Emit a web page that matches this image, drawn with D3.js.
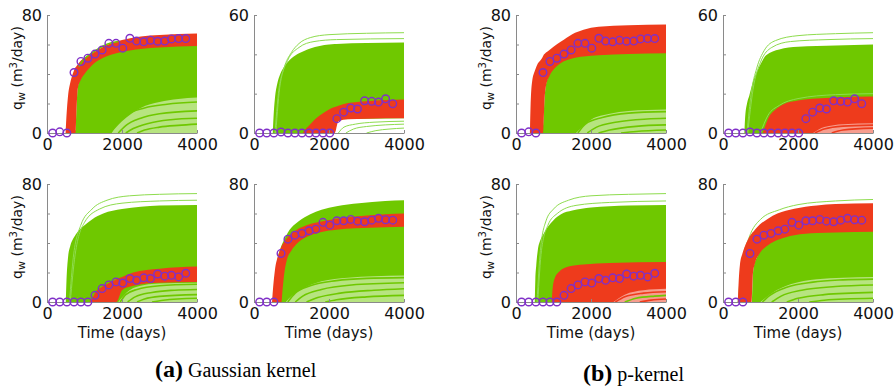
<!DOCTYPE html>
<html>
<head>
<meta charset="utf-8">
<script src="https://cdn.jsdelivr.net/npm/d3@7"></script>
<style>
  body { margin: 0; background: #fff; }
  svg { display: block; }
</style>
</head>
<body>
<svg id="chart" width="894" height="387"></svg>
<script>
// observation times (days) shared by every panel
const obsDays = [150, 340, 530, 720, 905, 1090, 1280, 1470, 1650, 1840, 2020, 2210, 2390, 2580, 2760, 2950, 3140, 3320, 3510, 3700];

// observed water rates per well (m3/day)
const well1Obs = [0, 0.8, 0, 41, 48.5, 50.7, 53.5, 56.3, 60.8, 60.8, 57.5, 64.2, 62.3, 61.8, 62.9, 62.2, 62.3, 63.8, 64, 64];
const well2Obs = [0, 0, 0, 0.5, 0, 0, 0, 0, 0, 0, 0, 7.3, 10.6, 12.7, 12.2, 16.4, 16.1, 15.7, 17.4, 14.9];
const well3Obs = [0, 0, 0, 0, 0, 0, 4.5, 9.1, 11.6, 13.6, 12.8, 15.9, 14.7, 16.4, 15.9, 19, 17.5, 18.1, 17, 19.5];
const well4Obs = [0, 0, 0, 32.9, 42.6, 45.3, 46.5, 48.3, 49.4, 54, 52.1, 55.1, 55.1, 56, 54.8, 54.4, 55.5, 56.7, 55.8, 55.5];

// ensemble envelopes as [day, low, high]; single members as [day, rate]
// (a) Gaussian kernel
const a1Green = [[600,0,0],[640,0,0],[760,0,2],[790,0,19],[820,0,31],[900,0,37],[1000,0,41],[1200,0,47],[1500,0,52],[2000,0,56],[2500,0,58],[3000,0,59],[4000,0,60]];
const a1Red = [[495,0,0],[520,0,12],[560,0,25],[620,0,34],[700,0,41],[760,0,44.5],[790,18,45.5],[820,30,46.5],[900,36,49],[1000,40,51],[1200,46,54],[1500,51,58.5],[2000,55,63],[2500,57,65.5],[3000,58,66.5],[4000,59,67.5]];
const a1Sparse = [[1700,0,0],[2000,0,8],[2500,0,17],[3000,0,21],[3500,0,23],[4000,0,24]];
const a1SparseGreen = [
  [[1700,0],[1850,6],[2100,12],[2600,17],[3200,19.5],[4000,21]],
  [[1900,0],[2100,5],[2500,10],[3000,13],[4000,15]],
  [[2100,0],[2300,3],[2700,6.5],[3300,9],[4000,10]],
  [[2400,0],[2600,2],[3000,4],[3500,5.2],[4000,6]]
];
const a1SparseRed = [];
const a1GreenLines = [];
const a1TopLines = [[[850,45],[950,49],[1100,52.5],[1300,56],[1500,59],[1700,61],[1900,62]]];

const a2Green = [[500,0,0],[520,0,8],[560,0,18],[620,0,25],[700,0,30],[800,0,33.5],[1000,0,38],[1200,0,40.5],[1500,0,43],[2000,0,45],[2150,0,45.2],[2200,7,45.3],[3000,7.3,45.7],[4000,7.5,46]];
const a2Red = [[1300,0,0],[1400,0,2.5],[1500,0,4.5],[1600,0,6.5],[1800,0,9.5],[2000,0,12],[2150,0,13.2],[2250,6,13.9],[2500,7,15.2],[3000,7.3,16.2],[4000,7.5,17]];
const a2Sparse = null;
const a2SparseGreen = [];
const a2SparseRed = [];
const a2GreenLines = [
  [[560,0],[650,20],[800,33],[1000,41],[1200,45.5],[1500,48.5],[2000,50],[3000,50.7],[4000,51]],
  [[580,0],[700,25],[900,37],[1200,43.5],[1600,46.5],[2200,47.5],[4000,48]],
  [[2250,0],[2400,3],[2700,4.5],[3200,5.5],[4000,6]],
  [[2450,0],[2650,2],[3000,3.3],[4000,4.5]],
  [[3000,0],[3250,1.2],[3600,2],[4000,2.5]]
];
const a2TopLines = [];

const a3Green = [[500,0,0],[520,0,15],[560,0,30],[620,0,38],[700,0,43],[800,0,47],[1000,0,52],[1200,0,56],[1500,0,60],[2000,0,63],[2500,0,64.5],[3000,0,65.5],[4000,0,65.8]];
const a3Red = [[1130,0,0],[1200,0,2.5],[1300,0,7],[1450,0,10],[1700,0,13.5],[1850,0,15.5],[2000,8,17],[2300,11,20],[3000,13,22.5],[4000,13.5,24]];
const a3Sparse = [[1900,0,0],[2200,0,8],[2600,0,11.5],[3000,0,12.5],[4000,0,13]];
const a3SparseGreen = [
  [[1950,0],[2100,5],[2400,8.5],[3000,11],[4000,12]],
  [[2150,0],[2350,3.5],[2800,6.5],[3400,8],[4000,8.5]],
  [[2400,0],[2600,2],[3000,3.8],[4000,5]],
  [[2800,0],[3100,1.2],[4000,2.5]]
];
const a3SparseRed = [];
const a3GreenLines = [
  [[600,0],[700,30],[900,52],[1200,63],[1600,69],[2200,72],[3000,73],[4000,73.5]],
  [[620,0],[750,32],[1000,54],[1400,63],[2000,67],[3000,68.5],[4000,69]]
];
const a3TopLines = [];

const a4Green = [[520,0,0],[560,0,15],[620,0,28],[700,0,36],[800,0,42],[900,0,47],[1000,0,50.5],[1200,0,55],[1500,0,59.5],[1800,0,62.5],[2200,0,65],[2800,0,67],[3500,0,68.5],[4000,0,69]];
const a4Red = [[480,0,0],[510,0,10],[555,0,21],[650,0,32],[730,0,37.5],[760,8,39],[800,18,40.5],[870,28,43],[1000,35,46.5],[1140,39.5,49],[1400,44,52],[1800,47.5,54.5],[2200,49,56.5],[2700,50,58],[3500,50.7,59.5],[4000,51,60]];
const a4Sparse = [[850,0,0],[1000,0,4],[1300,0,9],[1800,0,14],[2500,0,16.5],[3200,0,17.5],[4000,0,18]];
const a4SparseGreen = [
  [[900,0],[1100,6],[1500,11],[2200,14.5],[3000,16],[4000,16.5]],
  [[1100,0],[1300,4],[1800,8.5],[2600,11.5],[4000,13]],
  [[1400,0],[1700,3],[2300,6],[3200,8],[4000,9]],
  [[1900,0],[2200,1.5],[3000,3.5],[4000,4.5]]
];
const a4SparseRed = [];
const a4GreenLines = [];
const a4TopLines = [];

// (b) p-kernel
const b1Green = [[700,0,0],[730,0,8],[760,0,23],[800,0,33],[900,0,40],[1000,0,44],[1200,0,48.5],[1500,0,51.5],[2000,0,53.5],[3000,0,54.5],[4000,0,55]];
const b1Red = [[370,0,0],[390,0,20],[430,0,35],[500,0,42],[560,0,46],[700,0,51],[720,0,52],[740,10,53],[760,22,53.5],[800,32,54.5],[900,39,56.5],[1000,43,58.5],[1200,47.5,62],[1500,50.5,67],[1800,51.8,70],[2200,52.7,72],[3000,53.5,73],[4000,54,73.5]];
const b1Sparse = [[1600,0,0],[2000,0,9],[2500,0,13],[3000,0,15],[4000,0,16]];
const b1SparseGreen = [
  [[1650,0],[1850,6],[2300,10.5],[3000,13.5],[4000,14.5]],
  [[1900,0],[2150,4],[2700,7.5],[3500,9.5],[4000,10]],
  [[2200,0],[2500,2],[3200,4.5],[4000,5.5]],
  [[2800,0],[3200,1],[4000,2]]
];
const b1SparseRed = [];
const b1GreenLines = [];
const b1TopLines = [];

const b2Green = [[570,0,0],[590,0,8],[640,0,15],[700,0,19],[800,0,26],[900,0,31],[1000,0,35],[1150,0,39.5],[1500,0,42.5],[2000,0,43.8],[3000,0,44.5],[4000,0,45]];
const b2Red = [[1060,0,0],[1150,0,5],[1250,0,9],[1400,0,12],[1600,0,14.5],[2000,0,16.5],[2500,0,17.5],[3000,0,18],[4000,0,18.5]];
const b2Sparse = [[2400,0,0],[2700,0,3],[3200,0,4.5],[4000,0,5]];
const b2SparseGreen = [];
const b2SparseRed = [
  [[2450,0],[2700,2],[3200,3.5],[4000,4]],
  [[2900,0],[3200,1.5],[4000,2.5]]
];
const b2GreenLines = [
  [[640,0],[750,20],[900,33],[1100,42],[1400,47],[2000,49.5],[3000,50.5],[4000,51]],
  [[660,0],[800,22],[1000,36],[1300,43.5],[1800,46.5],[2800,47.5],[4000,48]],
  [[1000,0],[1200,9],[1500,14],[2000,17.5],[3000,19.5],[4000,20]]
];
const b2TopLines = [];

const b3Green = [[500,0,0],[515,0,15],[540,0,25],[580,0,35],[650,0,42],[730,0,46],[850,0,51],[1000,0,55.5],[1200,0,59.5],[1500,0,62],[2000,0,64],[2500,0,65],[3000,0,65.5],[4000,0,65.8]];
const b3Red = [[950,0,0],[980,0,10],[1030,0,16],[1150,0,20.5],[1400,0,24],[1800,0,25.5],[2500,0,26.5],[4000,0,27.2]];
const b3Sparse = [[2600,0,0],[2900,0,5],[3400,0,8],[4000,0,9]];
const b3SparseGreen = [[[2900,0],[3200,2.5],[3700,4],[4000,4.5]]];
const b3SparseRed = [
  [[2650,0],[2900,3.5],[3400,6],[4000,7]],
  [[3300,0],[3600,1.3],[4000,2]]
];
const b3GreenLines = [
  [[560,0],[650,35],[800,55],[1000,63],[1400,69],[2000,72],[3000,73],[4000,73.5]],
  [[580,0],[680,35],[850,52],[1100,60],[1600,65.5],[2500,67.5],[4000,68.5]]
];
const b3TopLines = [];

const b4Green = [[770,0,0],[790,0,15],[820,0,24],[900,0,30],[1000,0,35],[1200,0,40],[1450,0,43],[1900,0,46.3],[2500,0,47.8],[4000,0,48.6]];
const b4Red = [[395,0,0],[420,0,15],[450,0,25],[520,0,33],[620,0,40],[750,0,46],[760,0,46.3],[780,10,47],[800,20,47.5],[850,26,49],[980,33,52.5],[1200,38.5,56.5],[1450,42,60],[1900,45.3,63.3],[2500,46.8,65.5],[3000,47.2,66.5],[4000,47.6,67]];
const b4Sparse = [[1000,0,0],[1300,0,6],[1800,0,12],[2500,0,15.5],[3200,0,16.5],[4000,0,17]];
const b4SparseGreen = [
  [[1050,0],[1250,4.5],[1700,10],[2400,13.5],[3200,15],[4000,15.5]],
  [[1300,0],[1550,4],[2100,8],[3000,10.5],[4000,11.5]],
  [[1700,0],[2000,2.5],[2700,5],[4000,6.5]],
  [[2300,0],[2700,1.2],[4000,2.5]]
];
const b4SparseRed = [];
const b4GreenLines = [[[400,0],[500,25],[700,44],[1000,56],[1500,62.5],[2000,66],[3000,68.5],[4000,69.5]]];
const b4TopLines = [];

const GREEN = "#6fc800";
const LIGHT_GREEN = "#8edc4e";
const RED = "#ee3b1c";
const CIRCLE = "#8030c8";
const AXIS = "#8a8a8a";
const SANS = "DejaVu Sans, sans-serif";

const svg = d3.select("#chart");
const plotW = 150, plotH = 118;

const panels = [
  {left: 47,  top: 15,  ymax: 80, green: a1Green, red: a1Red, sparse: a1Sparse, sg: a1SparseGreen, sr: a1SparseRed, gl: a1GreenLines, tl: a1TopLines, obs: well1Obs, ylab: true,  xlab: false},
  {left: 254, top: 15,  ymax: 60, green: a2Green, red: a2Red, sparse: a2Sparse, sg: a2SparseGreen, sr: a2SparseRed, gl: a2GreenLines, tl: a2TopLines, obs: well2Obs, ylab: false, xlab: false},
  {left: 47,  top: 184, ymax: 80, green: a3Green, red: a3Red, sparse: a3Sparse, sg: a3SparseGreen, sr: a3SparseRed, gl: a3GreenLines, tl: a3TopLines, obs: well3Obs, ylab: true,  xlab: true},
  {left: 254, top: 184, ymax: 80, green: a4Green, red: a4Red, sparse: a4Sparse, sg: a4SparseGreen, sr: a4SparseRed, gl: a4GreenLines, tl: a4TopLines, obs: well4Obs, ylab: false, xlab: true},
  {left: 516, top: 15,  ymax: 80, green: b1Green, red: b1Red, sparse: b1Sparse, sg: b1SparseGreen, sr: b1SparseRed, gl: b1GreenLines, tl: b1TopLines, obs: well1Obs, ylab: true,  xlab: false},
  {left: 723, top: 15,  ymax: 60, green: b2Green, red: b2Red, sparse: b2Sparse, sg: b2SparseGreen, sr: b2SparseRed, gl: b2GreenLines, tl: b2TopLines, obs: well2Obs, ylab: false, xlab: false},
  {left: 516, top: 184, ymax: 80, green: b3Green, red: b3Red, sparse: b3Sparse, sg: b3SparseGreen, sr: b3SparseRed, gl: b3GreenLines, tl: b3TopLines, obs: well3Obs, ylab: true,  xlab: true},
  {left: 723, top: 184, ymax: 80, green: b4Green, red: b4Red, sparse: b4Sparse, sg: b4SparseGreen, sr: b4SparseRed, gl: b4GreenLines, tl: b4TopLines, obs: well4Obs, ylab: false, xlab: true}
];

function drawPanel(p) {
  const x = d3.scaleLinear().domain([0, 4000]).range([p.left, p.left + plotW]);
  const y = d3.scaleLinear().domain([0, p.ymax]).range([p.top + plotH, p.top]);
  const g = svg.append("g");

  const band = d3.area()
    .x(d => x(d[0])).y0(d => y(d[1])).y1(d => y(d[2]))
    .curve(d3.curveMonotoneX);
  const member = d3.line()
    .x(d => x(d[0])).y(d => y(d[1]))
    .curve(d3.curveMonotoneX);
  const drawMembers = (list, color, w) => list.forEach(l =>
    g.append("path").datum(l).attr("d", member)
      .attr("fill", "none").attr("stroke", color).attr("stroke-width", w));

  // green ensemble, then its stray members
  g.append("path").datum(p.green).attr("d", band).attr("fill", GREEN);
  drawMembers(p.gl, LIGHT_GREEN, 1);

  // red ensemble on top
  g.append("path").datum(p.red).attr("d", band).attr("fill", RED);
  drawMembers(p.tl, GREEN, 1.5);

  // region where the members thin out
  if (p.sparse) {
    g.append("path").datum(p.sparse).attr("d", band)
      .attr("fill", "#fff").attr("opacity", 0.5);
    drawMembers(p.sg, GREEN, 1.6);
    drawMembers(p.sr, RED, 1.6);
  }

  // axes
  const yAxis = d3.axisLeft(y)
    .tickValues(d3.range(0, p.ymax + 1, 20))
    .tickSize(-3).tickSizeOuter(0).tickPadding(5)
    .tickFormat(d => (d === 0 || d === p.ymax) ? d : "");
  const ya = g.append("g").attr("transform", `translate(${p.left},0)`).call(yAxis);

  const xAxis = d3.axisBottom(x)
    .tickValues([0, 2000, 4000])
    .tickSize(-3).tickSizeOuter(0).tickPadding(6)
    .tickFormat(d3.format("d"));
  const xa = g.append("g").attr("transform", `translate(0,${p.top + plotH})`).call(xAxis);

  [ya, xa].forEach(a => {
    a.selectAll("path, line").attr("stroke", AXIS);
    a.selectAll("text").attr("fill", "#111")
      .style("font-family", SANS).style("font-size", "16px");
  });
  ya.selectAll("text").attr("dy", "0.35em");

  // observations
  g.append("g").selectAll("circle")
    .data(obsDays.map((t, i) => [t, p.obs[i]]))
    .join("circle")
    .attr("cx", d => x(d[0])).attr("cy", d => y(d[1]))
    .attr("r", 3.8)
    .attr("fill", "none").attr("stroke", CIRCLE).attr("stroke-width", 1.4);

  if (p.ylab) {
    const t = g.append("text")
      .attr("transform", `translate(${p.left - 25},${p.top + plotH / 2 - 6}) rotate(-90)`)
      .attr("text-anchor", "middle")
      .style("font-family", SANS).style("font-size", "14px")
      .attr("fill", "#111");
    t.append("tspan").text("q");
    t.append("tspan").text("w").attr("dy", 3).style("font-size", "11px");
    t.append("tspan").text(" (m").attr("dy", -3);
    t.append("tspan").text("3").attr("dy", -5).style("font-size", "10px");
    t.append("tspan").text("/day)").attr("dy", 5);
  }
  if (p.xlab) {
    g.append("text")
      .attr("x", p.left + plotW / 2).attr("y", p.top + plotH + 36)
      .attr("text-anchor", "middle")
      .style("font-family", SANS).style("font-size", "15px")
      .attr("fill", "#111")
      .text("Time (days)");
  }
}

panels.forEach(drawPanel);

// sub-figure captions
function caption(xPos, yPos, tag, label) {
  const t = svg.append("text").attr("x", xPos).attr("y", yPos)
    .style("font-family", "Liberation Serif, Times New Roman, serif").attr("fill", "#000");
  t.append("tspan").text(tag).style("font-weight", "bold").style("font-size", "24px");
  t.append("tspan").text(" " + label).style("font-size", "20px");
}
caption(155, 377, "(a)", "Gaussian kernel");
caption(583, 381, "(b)", "p-kernel");
</script>
</body>
</html>
